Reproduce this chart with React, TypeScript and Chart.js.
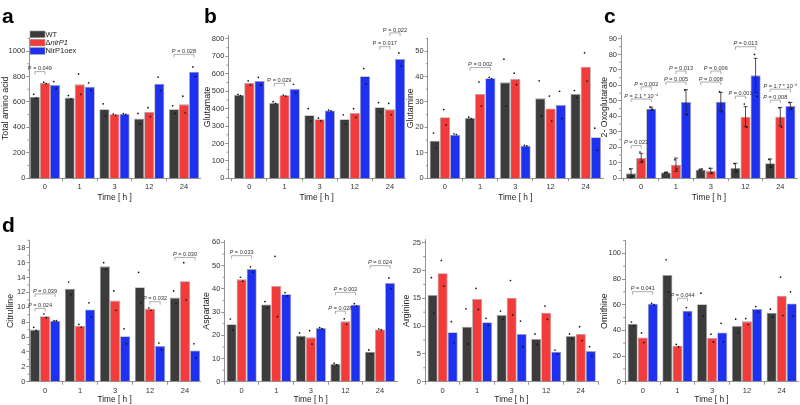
import React, { useEffect, useRef } from "react";
import { Chart, registerables } from "chart.js";

Chart.register(...registerables);

const FONT = "'Liberation Sans', Arial, Helvetica, sans-serif";
Chart.defaults.font.family = FONT;
Chart.defaults.color = "#333";

const timeLabels = ["0", "1", "3", "12", "24"];
const seriesNames = ["WT", "ΔnirP1", "NirP1oex"];
const seriesColors = ["#3c3c3c", "#f23c3c", "#1e30f0"];

// ---- Total amino acid (a)
const totalWT = [641, 634, 542, 469, 542];
const totalDel = [749, 738, 503, 521, 581];
const totalOex = [733, 720, 505, 743, 838];
const totalWTPts = [[660, 630], [650, 625], [585, 490], [510, 425], [570, 510]];
const totalDelPts = [[755, 745], [820, 660], [505, 495], [555, 485], [645, 515]];
const totalOexPts = [[760, 705], [750, 690], [508, 503], [795, 690], [875, 800]];
const totalP: [number, number, number, number, string][] = [
  [0, 0, 1, 838, "P = 0.049"],
  [4, 0, 2, 974, "P = 0.028"],
];

// ---- Glutamate (b)
const gluWT = [478, 432, 362, 339, 408];
const gluDel = [547, 477, 339, 375, 396];
const gluOex = [559, 513, 390, 586, 686];
const gluWTPts = [[482, 475], [440, 430], [400, 328], [365, 310], [435, 380]];
const gluDelPts = [[560, 535], [478, 472], [345, 330], [400, 350], [430, 365]];
const gluOexPts = [[580, 535], [540, 490], [392, 388], [630, 540], [720, 645]];
const gluP: [number, number, number, number, string][] = [
  [1, 0, 1, 545, "P = 0.029"],
  [4, 0, 1, 756, "P = 0.017"],
  [4, 1, 2, 835, "P = 0.022"],
];

// ---- Glutamine (b)
const glnWT = [14.8, 23.7, 37.7, 31.4, 33.1];
const glnDel = [24.0, 33.1, 39.0, 27.4, 43.8];
const glnOex = [17.1, 39.3, 12.8, 28.8, 16.1];
const glnWTPts = [[17.8, 12], [24, 23.5], [46.8, 28.4], [38.3, 24.5], [34.5, 31.7]];
const glnDelPts = [[27, 21], [37.8, 28.4], [41.3, 36.8], [32.3, 22.5], [49.3, 38.2]];
const glnOexPts = [[17.5, 17.2], [39.7, 39.2], [12.9, 12.7], [34.2, 23.5], [19.7, 11]];
const glnP: [number, number, number, number, string][] = [[1, 0, 2, 43.5, "P = 0.002"]];

// ---- 2-Oxoglutarate (c)
const ogWT = [3.2, 3.7, 5.6, 6.7, 9.7];
const ogDel = [13.1, 8.8, 4.7, 39.8, 39.8];
const ogOex = [45.0, 49.3, 49.5, 66.5, 46.7];
const ogWTErr = [3.0, 0.3, 0.4, 3.0, 2.8];
const ogDelErr = [3.0, 4.3, 1.8, 6.5, 6.0];
const ogOexErr = [1.0, 8.0, 6.0, 11.0, 2.3];
const ogWTPts = [[6, 1.5], [3.6, 3.8], [5.3, 6], [9.5, 4.5], [12.2, 7.5]];
const ogDelPts = [[17, 11], [12, 6], [6.5, 3.5], [48, 33], [45.5, 33]];
const ogOexPts = [[46, 44.5], [57, 41], [56, 43], [80, 53], [49, 45]];
const ogP: [number, number, number, number, string][] = [
  [0, 0, 1, 21.1, "P = 0.023"],
  [0, 0, 2, 51.2, "P = 2.1 * 10⁻⁴"],
  [0, 1, 2, 59.1, "P = 0.002"],
  [1, 0, 2, 62.2, "P = 0.005"],
  [1, 1, 2, 69.3, "P = 0.013"],
  [2, 0, 2, 62.2, "P = 0.008"],
  [2, 1, 2, 69.3, "P = 0.006"],
  [3, 0, 1, 53.1, "P = 0.001"],
  [3, 0, 2, 85, "P = 0.013"],
  [4, 0, 1, 50.5, "P = 0.008"],
  [4, 0, 2, 57.6, "P = 1.7 * 10⁻⁴"],
];

// ---- Citrulline (d)
const citWT = [7.0, 12.5, 15.5, 12.7, 11.3];
const citDel = [8.8, 7.5, 10.9, 9.8, 13.5];
const citOex = [8.2, 9.7, 6.1, 4.8, 4.2];
const citWTPts = [[7.3, 6.9], [13.4, 11.7], [16, 15.1], [14.7, 10.6], [12.2, 10.5]];
const citDelPts = [[9.1, 8.6], [7.7, 7.3], [12.2, 9.6], [9.9, 9.6], [16, 11]];
const citOexPts = [[8.2, 8.2], [10.6, 8.7], [7.1, 5.1], [5.2, 4.3], [5.1, 3.2]];
const citP: [number, number, number, number, string][] = [
  [0, 0, 1, 9.85, "P = 0.024"],
  [0, 0, 2, 11.8, "P = 0.039"],
  [3, 1, 2, 10.75, "P = 0.032"],
  [4, 0, 2, 16.7, "P = 0.030"],
];

// ---- Aspartate (d)
const aspWT = [24.8, 33.3, 19.8, 7.6, 12.9];
const aspDel = [44.1, 41.2, 19.1, 26.0, 22.5];
const aspOex = [48.5, 37.7, 23.1, 33.2, 42.5];
const aspWTPts = [[27, 22.3], [34.5, 31.8], [21, 18.5], [7.9, 7.3], [13.7, 12]];
const aspDelPts = [[45, 43.3], [54, 28], [22, 16.2], [27.1, 24.7], [22.7, 22.3]];
const aspOexPts = [[49.5, 47.2], [38.4, 37], [23.3, 22.9], [33.6, 32.6], [44.7, 40.1]];
const aspP: [number, number, number, number, string][] = [
  [0, 0, 2, 54.3, "P = 0.033"],
  [3, 0, 2, 38.5, "P = 0.002"],
  [3, 0, 1, 30.4, "P = 0.028"],
  [4, 0, 2, 50, "P = 0.024"],
];

// ---- Arginine (d)
const argWT = [15.6, 9.9, 12.0, 7.7, 8.2];
const argDel = [19.5, 14.9, 15.1, 12.4, 8.6];
const argOex = [8.9, 10.7, 8.6, 5.4, 5.5];
const argWTPts = [[18.7, 12.3], [13.1, 6.8], [12.7, 11.2], [8.6, 6.7], [8.6, 7.7]];
const argDelPts = [[21.8, 17.2], [16.8, 13], [18.2, 12], [13.6, 11.2], [9.9, 7.4]];
const argOexPts = [[10.8, 7], [11.4, 10.1], [10.9, 6.3], [5.7, 5], [6.3, 4.6]];
const argP: [number, number, number, number, string][] = [];

// ---- Ornithine (d)
const ornWT = [45.2, 83.1, 60.3, 43.4, 53.8];
const ornDel = [34.5, 28.1, 34.0, 47.0, 67.0];
const ornOex = [60.8, 55.3, 38.4, 56.6, 61.0];
const ornWTPts = [[46.5, 43.5], [95, 70], [69, 51], [48.7, 38.3], [56.5, 50.5]];
const ornDelPts = [[38, 30.5], [29, 27.2], [37, 31], [49.2, 44.5], [81.5, 51.5]];
const ornOexPts = [[61, 60], [57.8, 52.2], [45.5, 31], [58.5, 54.3], [70, 51]];
const ornP: [number, number, number, number, string][] = [
  [0, 0, 2, 70.1, "P = 0.041"],
  [1, 1, 2, 65, "P = 0.044"],
];

type Panel = {
  title: string;
  means: number[][];
  pts: number[][][];
  errs?: number[][];
  pv: [number, number, number, number, string][];
  italicP: boolean;
  areaL: number;
  areaR: number;
  areaT: number;
  areaB: number;
  yMax: number;
  yStep: number;
  xMin: number;
  xMax: number;
  yTitleX: number;
  xAxisH: number;
  letter?: [string, number, number];
  legend?: boolean;
};

const panels: Panel[] = [
  {
    title: "Total amino acid", means: [totalWT, totalDel, totalOex], pts: [totalWTPts, totalDelPts, totalOexPts],
    pv: totalP, italicP: false, areaL: 29.3, areaR: 200, areaT: 38.3, areaB: 178.3, yMax: 1100, yStep: 200,
    xMin: -0.45, xMax: 4.46, yTitleX: 6, xAxisH: 24, letter: ["a", 2, 23], legend: true,
  },
  {
    title: "Glutamate", means: [gluWT, gluDel, gluOex], pts: [gluWTPts, gluDelPts, gluOexPts],
    pv: gluP, italicP: false, areaL: 228.3, areaR: 405, areaT: 35.5, areaB: 178.3, yMax: 820, yStep: 100,
    xMin: -0.6, xMax: 4.43, yTitleX: 208, xAxisH: 24, letter: ["b", 204, 23],
  },
  {
    title: "Glutamine", means: [glnWT, glnDel, glnOex], pts: [glnWTPts, glnDelPts, glnOexPts],
    pv: glnP, italicP: true, areaL: 427.7, areaR: 603, areaT: 38.3, areaB: 178.3, yMax: 55, yStep: 10,
    xMin: -0.49, xMax: 4.49, yTitleX: 411, xAxisH: 24,
  },
  {
    title: "2- Oxoglutarate", means: [ogWT, ogDel, ogOex], pts: [ogWTPts, ogDelPts, ogOexPts],
    errs: [ogWTErr, ogDelErr, ogOexErr],
    pv: ogP, italicP: true, areaL: 621, areaR: 797, areaT: 35.9, areaB: 178.3, yMax: 92, yStep: 10,
    xMin: -0.58, xMax: 4.48, yTitleX: 604.5, xAxisH: 24, letter: ["c", 604, 23],
  },
  {
    title: "Citrulline", means: [citWT, citDel, citOex], pts: [citWTPts, citDelPts, citOexPts],
    pv: citP, italicP: true, areaL: 29.3, areaR: 200, areaT: 240.3, areaB: 381.7, yMax: 19, yStep: 2,
    xMin: -0.45, xMax: 4.43, yTitleX: 11, xAxisH: 23.3, letter: ["d", 2, 232],
  },
  {
    title: "Aspartate", means: [aspWT, aspDel, aspOex], pts: [aspWTPts, aspDelPts, aspOexPts],
    pv: aspP, italicP: true, areaL: 224.3, areaR: 397, areaT: 240.1, areaB: 381.7, yMax: 61, yStep: 10,
    xMin: -0.5, xMax: 4.49, yTitleX: 207, xAxisH: 23.3,
  },
  {
    title: "Arginine", means: [argWT, argDel, argOex], pts: [argWTPts, argDelPts, argOexPts],
    pv: argP, italicP: true, areaL: 425, areaR: 598, areaT: 239.9, areaB: 381.7, yMax: 25.5, yStep: 5,
    xMin: -0.51, xMax: 4.5, yTitleX: 407, xAxisH: 23.3,
  },
  {
    title: "Ornithine", means: [ornWT, ornDel, ornOex], pts: [ornWTPts, ornDelPts, ornOexPts],
    pv: ornP, italicP: true, areaL: 625, areaR: 798, areaT: 240.5, areaB: 381.7, yMax: 110, yStep: 20,
    xMin: -0.51, xMax: 4.47, yTitleX: 605, xAxisH: 23.3,
  },
];

const AXIS_COLOR = "#777";
const TICK_FONT = 7.5;
const YTITLE_FONT = 8.8;
const XTITLE_FONT = 8.3;
const P_FONT = 5.6;

function drawPLabel(ctx: CanvasRenderingContext2D, label: string, cx: number, y: number, italic: boolean) {
  ctx.fillStyle = "#333";
  ctx.textBaseline = "alphabetic";
  const normal = `${P_FONT}px ${FONT}`;
  const ital = `italic ${P_FONT}px ${FONT}`;
  if (italic && label.startsWith("P")) {
    ctx.font = ital;
    const w1 = ctx.measureText("P").width;
    ctx.font = normal;
    const rest = label.slice(1);
    const w2 = ctx.measureText(rest).width;
    const x0 = cx - (w1 + w2) / 2;
    ctx.textAlign = "left";
    ctx.font = ital;
    ctx.fillText("P", x0, y);
    ctx.font = normal;
    ctx.fillText(rest, x0 + w1, y);
  } else {
    ctx.font = normal;
    ctx.textAlign = "center";
    ctx.fillText(label, cx, y);
  }
}

function makeOverlay(p: Panel, idx: number) {
  return {
    id: "overlay" + idx,
    afterDraw(chart: any) {
      const ctx: CanvasRenderingContext2D = chart.ctx;
      const ys = chart.scales.y;
      const area = chart.chartArea;
      ctx.save();

      // minor ticks on y axis
      const majors: number[] = ys.ticks.map((t: any) => t.value);
      ctx.strokeStyle = AXIS_COLOR;
      ctx.lineWidth = 0.8;
      const minors: number[] = [];
      for (let i = 0; i < majors.length - 1; i++) minors.push((majors[i] + majors[i + 1]) / 2);
      const nextMinor = majors[majors.length - 1] + p.yStep / 2;
      if (nextMinor <= p.yMax) minors.push(nextMinor);
      minors.forEach((v) => {
        const y = ys.getPixelForValue(v);
        ctx.beginPath();
        ctx.moveTo(area.left - 1.8, y);
        ctx.lineTo(area.left, y);
        ctx.stroke();
      });

      // error bars
      if (p.errs) {
        ctx.strokeStyle = "#222";
        ctx.lineWidth = 0.8;
        p.errs.forEach((errs, s) => {
          const meta = chart.getDatasetMeta(s);
          errs.forEach((e, j) => {
            const bar = meta.data[j];
            const m = p.means[s][j];
            const yt = ys.getPixelForValue(m + e);
            const yb = ys.getPixelForValue(Math.max(0, m - e));
            ctx.beginPath();
            ctx.moveTo(bar.x, yt);
            ctx.lineTo(bar.x, yb);
            ctx.moveTo(bar.x - 2, yt);
            ctx.lineTo(bar.x + 2, yt);
            ctx.moveTo(bar.x - 2, yb);
            ctx.lineTo(bar.x + 2, yb);
            ctx.stroke();
          });
        });
      }

      // replicate dots
      ctx.fillStyle = "#111";
      p.pts.forEach((series, s) => {
        const meta = chart.getDatasetMeta(s);
        series.forEach((vals, j) => {
          const bar = meta.data[j];
          vals.forEach((v, k) => {
            const x = bar.x + (k === 0 ? -1.2 : 1.2);
            const y = ys.getPixelForValue(v);
            ctx.beginPath();
            ctx.arc(x, y, 0.85, 0, Math.PI * 2);
            ctx.fill();
          });
        });
      });

      // significance brackets
      p.pv.forEach(([cat, a, b, yv, label]) => {
        const x1 = chart.getDatasetMeta(a).data[cat].x;
        const x2 = chart.getDatasetMeta(b).data[cat].x;
        const y = ys.getPixelForValue(yv);
        ctx.strokeStyle = "#8a8a8a";
        ctx.lineWidth = 0.7;
        ctx.beginPath();
        ctx.moveTo(x1, y + 3);
        ctx.lineTo(x1, y);
        ctx.lineTo(x2, y);
        ctx.lineTo(x2, y + 3);
        ctx.stroke();
        drawPLabel(ctx, label, (x1 + x2) / 2, y - 1.3, p.italicP);
      });

      // legend
      if (p.legend) {
        const lx = 30;
        const ly0 = 31;
        const pitch = 8.3;
        const bw = 15;
        const bh = 6.7;
        chart.data.datasets.forEach((ds: any, s: number) => {
          const y = ly0 + s * pitch;
          ctx.fillStyle = ds.backgroundColor;
          ctx.fillRect(lx, y, bw, bh);
          ctx.strokeStyle = "#9a9a9a";
          ctx.lineWidth = 0.6;
          ctx.strokeRect(lx, y, bw, bh);
          ctx.fillStyle = "#222";
          ctx.textBaseline = "middle";
          ctx.textAlign = "left";
          const label: string = ds.label;
          const ty = y + bh / 2 + 0.3;
          if (label.startsWith("Δ")) {
            ctx.font = `${TICK_FONT}px ${FONT}`;
            ctx.fillText("Δ", lx + bw + 0.5, ty);
            const w = ctx.measureText("Δ").width;
            ctx.font = `italic ${TICK_FONT}px ${FONT}`;
            ctx.fillText(label.slice(1), lx + bw + 0.5 + w, ty);
          } else {
            ctx.font = `${TICK_FONT}px ${FONT}`;
            ctx.fillText(label, lx + bw + 0.5, ty);
          }
        });
      }

      // panel letter
      if (p.letter) {
        ctx.fillStyle = "#000";
        ctx.font = `bold 21px ${FONT}`;
        ctx.textAlign = "left";
        ctx.textBaseline = "alphabetic";
        ctx.fillText(p.letter[0], p.letter[1], p.letter[2]);
      }
      ctx.restore();
    },
  };
}

function buildConfig(p: Panel, idx: number): any {
  const lh = YTITLE_FONT * 1.2;
  const padLeft = p.yTitleX - lh / 2;
  const padBottom = 405 - p.areaB - p.xAxisH;
  return {
    type: "bar",
    data: {
      datasets: p.means.map((m, s) => ({
        label: seriesNames[s],
        data: m.map((v, i) => ({ x: i, y: v })),
        backgroundColor: seriesColors[s],
        borderColor: "#a5a5a5",
        borderWidth: 0.8,
        categoryPercentage: 0.87,
        barPercentage: 1.0,
      })),
    },
    options: {
      responsive: false,
      animation: false,
      events: [],
      layout: { padding: { left: padLeft, right: 800 - p.areaR, top: p.areaT, bottom: padBottom } },
      plugins: { legend: { display: false }, tooltip: { enabled: false } },
      scales: {
        x: {
          type: "linear",
          min: p.xMin,
          max: p.xMax,
          offset: false,
          afterBuildTicks: (s: any) => {
            s.ticks = timeLabels.map((_, i) => ({ value: i }));
          },
          afterFit: (s: any) => {
            s.height = p.xAxisH;
          },
          ticks: {
            callback: (_v: any, i: number) => timeLabels[i],
            autoSkip: false,
            maxRotation: 0,
            font: { size: TICK_FONT },
            color: "#333",
            padding: 1.5,
          },
          grid: { drawOnChartArea: false, drawTicks: true, tickLength: 3, color: AXIS_COLOR, lineWidth: 0.8 },
          border: { display: true, color: AXIS_COLOR, width: 0.8 },
          title: { display: true, text: "Time [ h ]", font: { size: XTITLE_FONT }, color: "#222", padding: 0 },
        },
        y: {
          type: "linear",
          min: 0,
          max: p.yMax,
          afterFit: (s: any) => {
            s.width = p.areaL - padLeft;
          },
          ticks: {
            stepSize: p.yStep,
            includeBounds: false,
            callback: (v: any) => String(Math.round(Number(v) * 100) / 100),
            font: { size: TICK_FONT },
            color: "#333",
            padding: 1,
          },
          grid: { drawOnChartArea: false, drawTicks: true, tickLength: 3, color: AXIS_COLOR, lineWidth: 0.8 },
          border: { display: true, color: AXIS_COLOR, width: 0.8 },
          title: { display: true, text: p.title, font: { size: YTITLE_FONT }, color: "#222", padding: 0 },
        },
      },
    },
    plugins: [makeOverlay(p, idx)],
  };
}

export default function App() {
  const refs = useRef<(HTMLCanvasElement | null)[]>([]);
  useEffect(() => {
    const charts = panels.map((p, i) => new Chart(refs.current[i] as HTMLCanvasElement, buildConfig(p, i)));
    return () => charts.forEach((c) => c.destroy());
  }, []);
  return (
    <div style={{ position: "fixed", left: 0, top: 0, width: 800, height: 405, background: "#fff", overflow: "hidden" }}>
      {panels.map((_, i) => (
        <canvas
          key={i}
          ref={(el) => {
            refs.current[i] = el;
          }}
          width={800}
          height={405}
          style={{ position: "absolute", left: 0, top: 0, width: 800, height: 405 }}
        />
      ))}
    </div>
  );
}
